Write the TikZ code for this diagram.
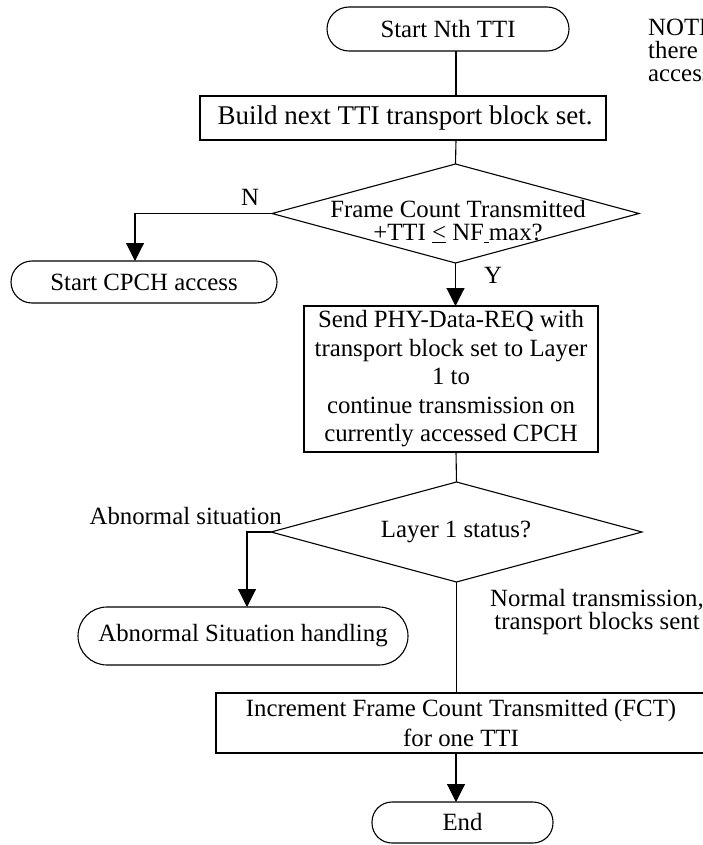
\documentclass[tikz,border=0pt]{standalone}
\usepackage{fontspec}
\setmainfont{Liberation Serif}
\usetikzlibrary{shapes.geometric,arrows.meta,calc}
\begin{document}
\begin{tikzpicture}[x=1pt,y=1pt]
\tikzset{
  base/.style={draw, line width=1.1pt, inner sep=0pt, outer sep=0pt, align=center, font=\fontsize{24.8}{28.5}\selectfont},
  term/.style={base},
  proc/.style={base, rectangle},
  dec/.style={draw, line width=1.1pt, shape=diamond, inner sep=0pt, outer sep=0pt},
  txt/.style={inner sep=0pt, align=center, font=\fontsize{24.8}{23}\selectfont},
  conn/.style={line width=1.1pt},
  arr/.style={conn, -{Triangle[length=18pt,width=18pt]}},
}
\useasboundingbox (0,0) rectangle (703,-845);
\coordinate (tr) at (456,0);

\node[term, minimum width=242pt, minimum height=44pt, rounded corners=22pt] (start) at (448,-29) {Start Nth TTI};
\node[proc, minimum width=406pt, minimum height=44pt] (build) at (403,-118) {};
\node[inner sep=0pt, font=\fontsize{27}{30}\selectfont] (buildt) at (405,-118) {Build next TTI transport block set.};
\node[dec, minimum width=367pt, minimum height=99pt] (d1) at (455.5,-213.5) {};
\node[txt] (d1t) at (458,-221.5) {Frame Count Transmitted\\+TTI \underline{<} NF\underline{\hspace{0.2em}}max?};
\node[term, minimum width=266pt, minimum height=42pt, rounded corners=21pt] (cpch) at (144,-282) {Start CPCH access};
\node[proc, minimum width=294pt, minimum height=146pt] (send) at (451,-379) {Send PHY-Data-REQ with\\transport block set to Layer\\1 to\\continue transmission on\\currently accessed CPCH};
\node[dec, minimum width=371pt, minimum height=100pt] (d2) at (456.5,-532) {};
\node[txt] (d2t) at (456,-532) {Layer 1 status?};
\node[term, minimum width=330pt, minimum height=58pt, rounded corners=29pt] (abn) at (243,-636) {Abnormal Situation handling};
\node[proc, minimum width=490pt, minimum height=60pt, font=\fontsize{24.8}{30}\selectfont] (inc) at (461,-723) {Increment Frame Count Transmitted (FCT)\\for one TTI};
\node[term, minimum width=181pt, minimum height=41pt, rounded corners=20pt] (end) at (462.5,-822.5) {End};

\node[txt] (lN) at (250,-197) {N};
\node[txt] (lY) at (493,-275) {Y};
\node[txt, anchor=east] (lab) at (282,-516) {Abnormal situation};
\node[txt] (lnorm) at (597,-612) {Normal transmission,\\transport blocks sent};
\node[txt, anchor=north west, align=left] (note) at (648,-19) {NOTE\\there\\access};

\draw[conn] (start.south -| tr) -- (build.north -| tr);
\draw[conn] (build.south -| tr) -- (d1.north);
\draw[arr] (d1.west) -| ($(cpch.north)+(-9,0)$);
\draw[arr] (d1.south) -- (send.north -| d1.south);
\draw[conn] (send.south -| tr) -- (d2.north);
\draw[arr] (d2.west) -| ($(abn.north)+(4,0)$);
\draw[conn] (d2.south) -- (inc.north -| d2.south);
\draw[arr] (inc.south -| tr) -- (end.north -| tr);
\end{tikzpicture}
\end{document}
